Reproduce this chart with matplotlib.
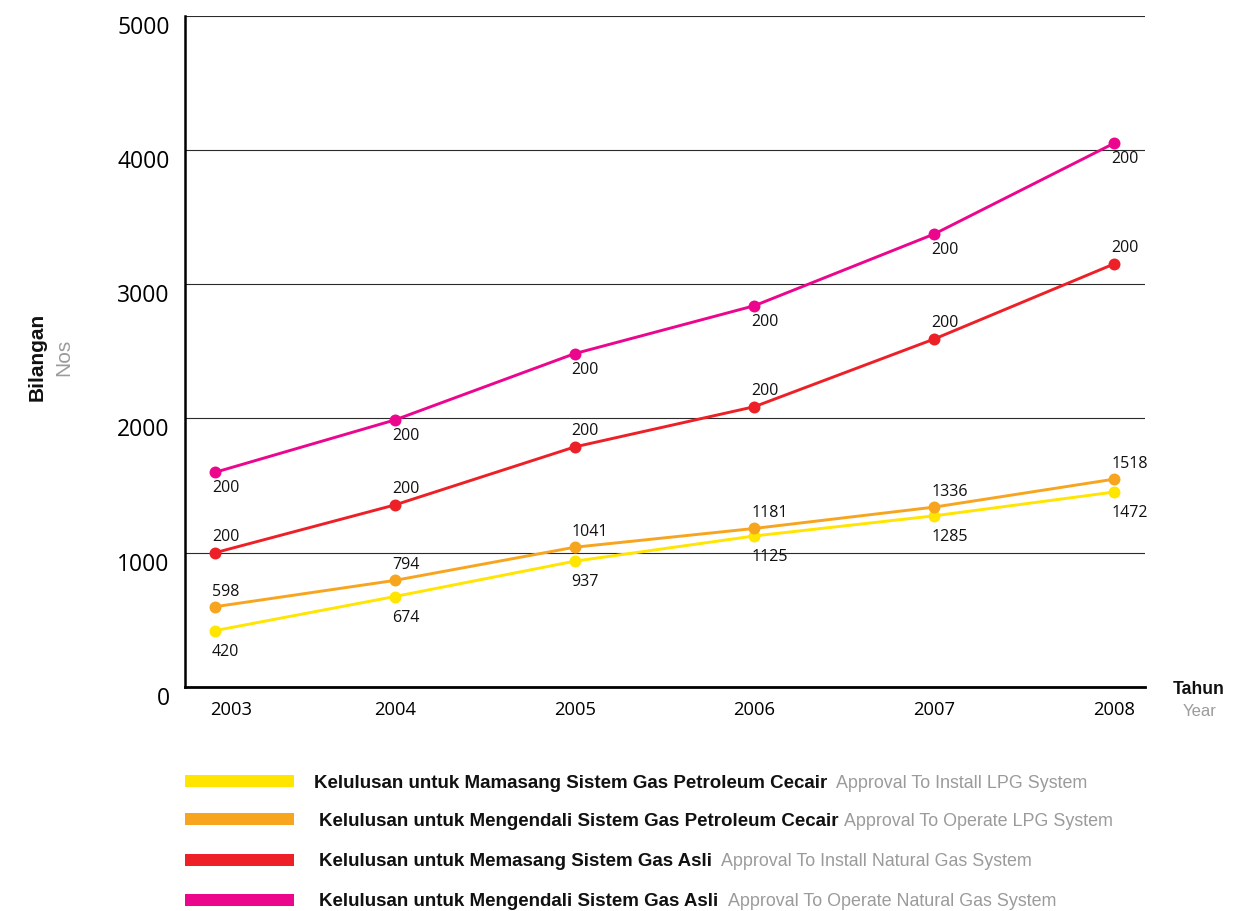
import matplotlib
matplotlib.use('Agg')
import matplotlib.pyplot as plt
from matplotlib.patches import Rectangle
import matplotlib.transforms as mtransforms

# ---------------- data ----------------
years = [2003, 2004, 2005, 2006, 2007, 2008]
install_lpg = [420, 674, 937, 1125, 1275, 1452]
operate_lpg = [598, 794, 1041, 1181, 1340, 1548]
install_ng = [1000, 1356, 1788, 2088, 2592, 3151]
operate_ng = [1599, 1989, 2483, 2840, 3374, 4050]

install_lpg_labels = ['420', '674', '937', '1125', '1285', '1472']
operate_lpg_labels = ['598', '794', '1041', '1181', '1336', '1518']
install_ng_labels = ['200', '200', '200', '200', '200', '200']
operate_ng_labels = ['200', '200', '200', '200', '200', '200']

yticks = [0, 1000, 2000, 3000, 4000, 5000]
ytick_labels = ['0', '1000', '2000', '3000', '4000', '5000']
xtick_labels = ['2003', '2004', '2005', '2006', '2007', '2008']

legend_malay = [
    'Kelulusan untuk Mamasang Sistem Gas Petroleum Cecair',
    'Kelulusan untuk Mengendali Sistem Gas Petroleum Cecair',
    'Kelulusan untuk Memasang Sistem Gas Asli',
    'Kelulusan untuk Mengendali Sistem Gas Asli',
]
legend_english = [
    'Approval To Install LPG System',
    'Approval To Operate LPG System',
    'Approval To Install Natural Gas System',
    'Approval To Operate Natural Gas System',
]

# ---------------- style ----------------
W, H = 1252, 911
C_YELLOW = '#FFE500'
C_ORANGE = '#F7A51E'
C_RED = '#EE2027'
C_MAGENTA = '#EC068D'
GRAY = '#9b9b9b'
NUM_FONT = ['Open Sans', 'DejaVu Sans']
TXT_FONT = ['Liberation Sans', 'DejaVu Sans']

fig = plt.figure(figsize=(W / 100, H / 100), dpi=100)
fig.patch.set_facecolor('white')

def fx(x):
    return x / W

def fy(y):
    return 1 - y / H

ax = fig.add_axes([fx(185), fy(687), (1145 - 185) / W, (687 - 15.7) / H])
ax.set_xlim(2002.833, 2008.172)
ax.set_ylim(0, 5000)

for side in ['top', 'right']:
    ax.spines[side].set_visible(False)
ax.spines['left'].set_linewidth(1.8)
ax.spines['bottom'].set_linewidth(2.0)
ax.spines['left'].set_zorder(5)
ax.spines['bottom'].set_zorder(5)

ax.set_yticks(yticks)
ax.set_yticklabels(ytick_labels, fontsize=16.5, family=NUM_FONT)
ax.set_xticks(years)
ax.set_xticklabels(xtick_labels, fontsize=13.2, family=NUM_FONT)
ax.tick_params(axis='both', length=0)
ax.tick_params(axis='y', pad=11)
ax.tick_params(axis='x', pad=10)
ax.yaxis.grid(True, color='#2a2a2a', linewidth=0.8)
ax.set_axisbelow(True)

# shift y tick labels down a bit
down = mtransforms.ScaledTranslation(0, -9 / 100, fig.dpi_scale_trans)
for lab in ax.get_yticklabels():
    lab.set_transform(lab.get_transform() + down)
# first x tick label sits slightly right of its point
right = mtransforms.ScaledTranslation(16 / 100, 0, fig.dpi_scale_trans)
xl = ax.get_xticklabels()
xl[0].set_transform(xl[0].get_transform() + right)

series = [
    (install_lpg, install_lpg_labels, C_YELLOW, -21),
    (operate_lpg, operate_lpg_labels, C_ORANGE, 15),
    (install_ng, install_ng_labels, C_RED, 16),
    (operate_ng, operate_ng_labels, C_MAGENTA, -16),
]

for vals, labels, col, off in series:
    ax.plot(years, vals, color=col, linewidth=2.1, marker='o', markersize=8.6,
            markeredgewidth=0, zorder=3, clip_on=False)
    for x, v, lbl in zip(years, vals, labels):
        ax.annotate(lbl, (x, v), xytext=(-3, off), textcoords='offset pixels',
                    ha='left', va='center', fontsize=11.5, family=NUM_FONT,
                    color='#111111', zorder=4)

# axis titles
fig.text(fx(37), fy(357), 'Bilangan', rotation=90, ha='center', va='center',
         fontsize=15, fontweight='bold', family=TXT_FONT, color='#111111')
fig.text(fx(64), fy(357), 'Nos', rotation=90, ha='center', va='center',
         fontsize=15, family=TXT_FONT, color=GRAY)
fig.text(fx(1199), fy(690), 'Tahun', ha='center', va='center',
         fontsize=12.7, fontweight='bold', family=TXT_FONT, color='#111111')
fig.text(fx(1200), fy(712), 'Year', ha='center', va='center',
         fontsize=12, family=TXT_FONT, color=GRAY)

# legend
leg_colors = [C_YELLOW, C_ORANGE, C_RED, C_MAGENTA]
leg_y = [781, 819, 860, 900]
leg_tx = [314, 319, 319, 319]
leg_gap = [9, 6, 9, 10]
for col, yc, tx, gap, mal, eng in zip(leg_colors, leg_y, leg_tx, leg_gap,
                                      legend_malay, legend_english):
    fig.add_artist(Rectangle((fx(185), fy(yc + 6)), (294 - 185) / W, 12 / H,
                             transform=fig.transFigure, facecolor=col,
                             edgecolor='none'))
    t = fig.text(fx(tx), fy(yc + 6.5), mal, ha='left', va='baseline',
                 fontsize=13.5, fontweight='bold', family=TXT_FONT,
                 color='#111111')
    plt.annotate(eng, xy=(1, 0), xycoords=t, xytext=(gap, 0),
                 textcoords='offset pixels', ha='left', va='bottom',
                 fontsize=12.9, family=TXT_FONT, color=GRAY,
                 annotation_clip=False)

fig.savefig('out.png', dpi=100, facecolor='white')
